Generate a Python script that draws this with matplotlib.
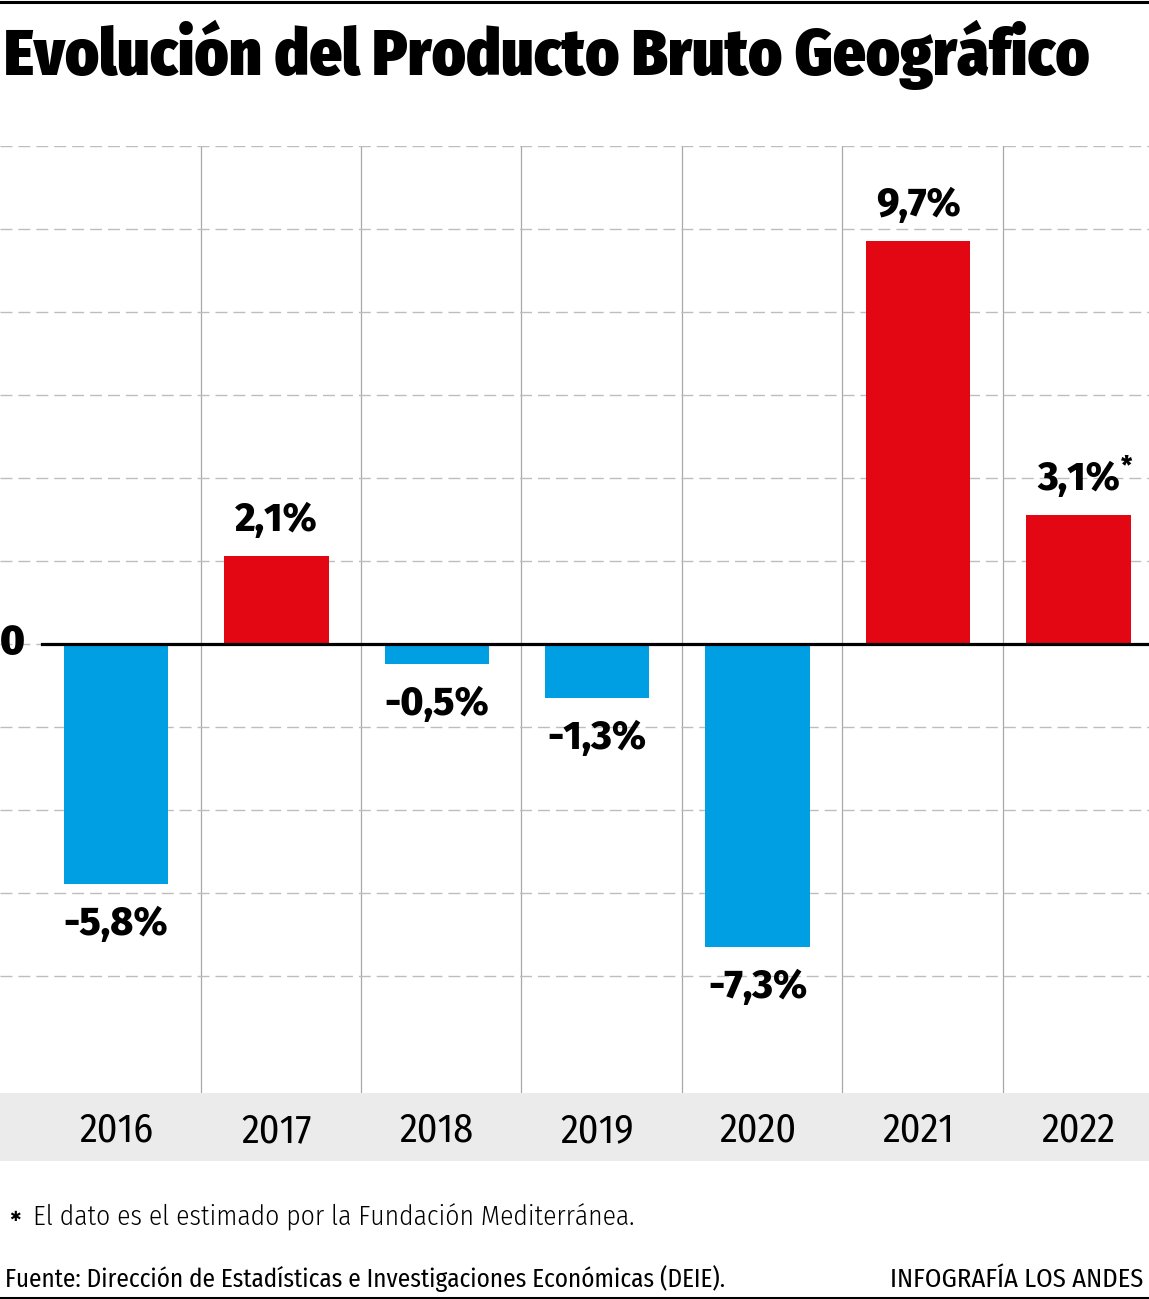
import os, glob
import matplotlib
matplotlib.use('Agg')
import matplotlib.pyplot as plt
from matplotlib import font_manager as fm
from matplotlib.patches import Rectangle
from matplotlib.lines import Line2D

# ---------------- data ----------------
years = ['2016', '2017', '2018', '2019', '2020', '2021', '2022']
growth = [-5.8, 2.1, -0.5, -1.3, -7.3, 9.7, 3.1]
value_labels = ['-5,8%', '2,1%', '-0,5%', '-1,3%', '-7,3%', '9,7%', '3,1%']
estimated = [False, False, False, False, False, False, True]
grid_values = [-8, -6, -4, -2, 0, 2, 4, 6, 8, 10, 12]

title = 'Evolución del Producto Bruto Geográfico'
note = 'El dato es el estimado por la Fundación Mediterránea.'
source = 'Fuente: Dirección de Estadísticas e Investigaciones Económicas (DEIE).'
credit = 'INFOGRAFÍA LOS ANDES'

RED = '#e30613'
BLUE = '#009fe3'
GRID = '#bdbdbd'
SEP = '#a8a8a8'
BAND = '#ebebeb'

# ---------------- fonts ----------------
files = {f.fname for f in fm.fontManager.ttflist}
files |= set(glob.glob('/usr/share/fonts/**/*.ttf', recursive=True))
files |= set(glob.glob('/usr/share/fonts/**/*.otf', recursive=True))
bystem = {}
for f in sorted(files):
    bystem.setdefault(os.path.splitext(os.path.basename(f))[0].lower(), f)


def pick(names, fallback_family, weight):
    for n in names:
        if n.lower() in bystem:
            return fm.FontProperties(fname=bystem[n.lower()])
    return fm.FontProperties(family=fallback_family, weight=weight)


fp_title = pick(['FiraSansCondensed-Black', 'FiraSansExtraCondensed-Black',
                 'FiraSansCondensed-ExtraBold', 'Roboto-Black'], 'DejaVu Sans', 'bold')
fp_zero = pick(['FiraSans-Black', 'FiraSans-ExtraBold', 'FiraSans-Bold'],
               'DejaVu Sans', 'bold')
fp_bold = pick(['FiraSans-ExtraBold', 'FiraSans-Bold', 'Roboto-Bold'], 'DejaVu Sans', 'bold')
fp_year = pick(['FiraSansCondensed-Regular', 'FiraSansCondensed-Book', 'RobotoCondensed-Regular'],
               'DejaVu Sans', 'normal')
fp_reg = pick(['FiraSansCondensed-Regular', 'FiraSansCondensed-Book',
               'RobotoCondensed-Regular'], 'DejaVu Sans', 'normal')
fp_light = pick(['FiraSansCondensed-Light', 'FiraSansCondensed-Regular',
                 'RobotoCondensed-Light'], 'DejaVu Sans', 'normal')
fp_dv = fm.FontProperties(family='DejaVu Sans')

# ---------------- figure ----------------
W, H = 1149, 1299
fig = plt.figure(figsize=(W / 100, H / 100), dpi=100)
fig.patch.set_facecolor('white')

ax_top_px, ax_bot_px = 145.7, 1093
ax = fig.add_axes([0, 1 - ax_bot_px / H, 1, (ax_bot_px - ax_top_px) / H])
ax.set_xlim(-0.723, 6.44)
ax.set_ylim(-10.83, 12)
for s in ax.spines.values():
    s.set_visible(False)
ax.set_facecolor('none')

# grid
ax.set_yticks(grid_values)
ax.yaxis.grid(True, color=GRID, lw=1.0, linestyle=(0, (8.6, 4.3)), zorder=0)
seps = [i + 0.5 + 0.028 for i in range(len(years) - 1)]
ax.set_xticks([])
ax.set_xticks(seps, minor=True)
ax.xaxis.grid(True, which='minor', color=SEP, lw=0.9, zorder=0)
ax.tick_params(which='both', length=0, labelleft=False, labelbottom=False)
ax.set_axisbelow(True)

# bars
colors = [RED if v >= 0 else BLUE for v in growth]
x = list(range(len(years)))
ax.bar(x, growth, width=0.65, color=colors, zorder=2)

# zero line
ax.axhline(0, xmin=42 / W, xmax=1, color='black', lw=2.3, zorder=3)

# zero label
t_zero = ax.text(-0.723, 0.0, '0', ha='left', va='center', fontproperties=fp_zero,
                 fontsize=27, zorder=4)

# value labels
lab_texts = []
for xi, v, lab in zip(x, growth, value_labels):
    off = 26 if v >= 0 else -29
    t = ax.annotate(lab, xy=(xi, v), xytext=(0, off), textcoords='offset points',
                    ha='center', va='center', fontproperties=fp_bold, fontsize=24, zorder=4)
    lab_texts.append(t)

# grey band + year labels
fig.patches.append(Rectangle((0, 1 - 1161 / H), 1, 68 / H, transform=fig.transFigure,
                             facecolor=BAND, edgecolor='none', zorder=-5))
year_texts = []
for xi, yr in zip(x, years):
    xf = ax.transData.transform((xi, 0))[0] / W
    t = fig.text(xf, 1 - 1131 / H, yr, ha='center', va='center',
                 fontproperties=fp_year, fontsize=28, zorder=5)
    year_texts.append(t)

# rules
fig.add_artist(Line2D([0, 1], [1 - 1.5 / H, 1 - 1.5 / H], color='black', lw=2.2,
                      transform=fig.transFigure))
fig.add_artist(Line2D([0, 1], [1 - 1297.5 / H, 1 - 1297.5 / H], color='black', lw=2.2,
                      transform=fig.transFigure))

# title and footer texts
t_title = fig.text(4 / W, 1 - 75 / H, title, ha='left', va='baseline',
                   fontproperties=fp_title, fontsize=42)
t_star = fig.text(9 / W, 1 - 1217 / H, '✱', ha='left', va='center',
                  fontproperties=fp_dv, fontsize=10)
t_note = fig.text(33 / W, 1 - 1226 / H, note, ha='left', va='baseline',
                  fontproperties=fp_light, fontsize=19)
t_src = fig.text(5 / W, 1 - 1287 / H, source, ha='left', va='baseline',
                 fontproperties=fp_reg, fontsize=17)
t_cred = fig.text(1143 / W, 1 - 1287 / H, credit, ha='right', va='baseline',
                  fontproperties=fp_reg, fontsize=17)

# fit widths to the reference
fig.canvas.draw()
r = fig.canvas.get_renderer()


def fit(t, target):
    w = t.get_window_extent(r).width
    t.set_fontsize(t.get_fontsize() * target / w)


fit(t_title, 1085)
fit(t_note, 602)
fit(t_src, 720)
fit(t_cred, 253)
fit(t_zero, 25)
w_lab = lab_texts[5].get_window_extent(r).width
s_lab = lab_texts[5].get_fontsize() * 85 / w_lab
for t in lab_texts:
    t.set_fontsize(s_lab)
w_yr = year_texts[0].get_window_extent(r).width
s_yr = year_texts[0].get_fontsize() * 74 / w_yr
for t in year_texts:
    t.set_fontsize(s_yr)

fig.canvas.draw()
for t, est in zip(lab_texts, estimated):
    if est:
        bb = t.get_window_extent(r)
        fig.text((bb.x1 + 1) / W, (bb.y1 + 6) / H, '*', ha='left', va='top',
                 fontproperties=fp_bold, fontsize=18)

fig.savefig('out.png', dpi=100)
